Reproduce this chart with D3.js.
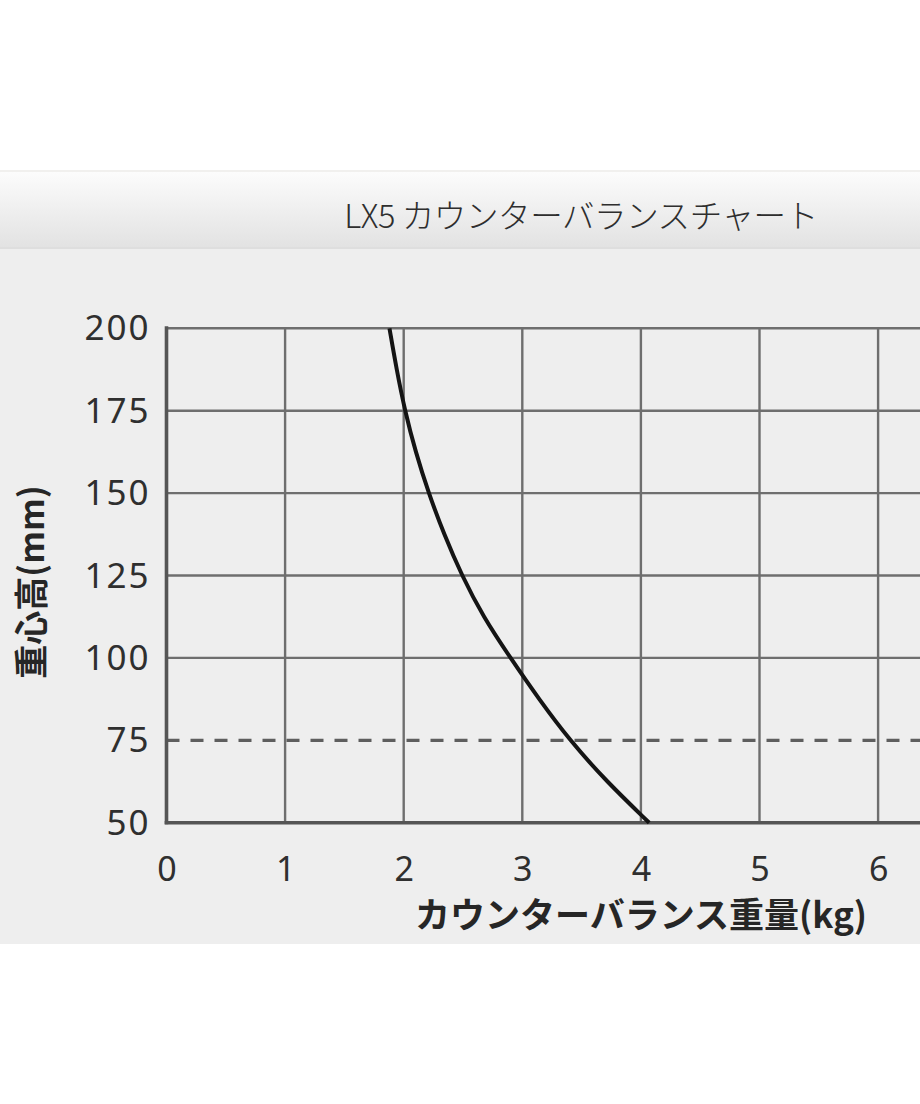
<!DOCTYPE html>
<html><head><meta charset="utf-8">
<script src="https://cdn.jsdelivr.net/npm/d3@7"></script>
<style>
html,body{margin:0;padding:0;background:#fff;}
svg{display:block;}
</style></head>
<body>
<svg id="chart" width="920" height="1104"></svg>
<script>
// ---- data ----
const title = "LX5 カウンターバランスチャート";
const xLabel = "カウンターバランス重量(kg)";
const yLabel = "重心高(mm)";
const heights = [200, 187.5, 175, 162.5, 150, 137.5, 125, 112.5, 100, 87.5, 75, 62.5, 50];
const weights = [1.88, 1.94, 2.01, 2.10, 2.21, 2.34, 2.49, 2.67, 2.90, 3.14, 3.40, 3.71, 4.07];
const xTicks = [0, 1, 2, 3, 4, 5, 6];
const xGrid = [1, 2, 3, 4, 5, 6, 7];
const yTicks = [50, 75, 100, 125, 150, 175, 200];
const yGrid = [100, 125, 150, 175, 200];
const refLine = 75;

const svg = d3.select("#chart");
const W = 920;

// background band + panel
const defs = svg.append("defs");
const g1 = defs.append("linearGradient").attr("id", "band").attr("x1", 0).attr("x2", 0).attr("y1", 0).attr("y2", 1);
g1.append("stop").attr("offset", "0%").attr("stop-color", "#fcfcfc");
g1.append("stop").attr("offset", "100%").attr("stop-color", "#e2e2e2");

svg.append("rect").attr("x", 0).attr("y", 0).attr("width", W).attr("height", 1104).attr("fill", "#fff");
svg.append("rect").attr("x", 0).attr("y", 170).attr("width", W).attr("height", 2).attr("fill", "#f1f0ee");
svg.append("rect").attr("x", 0).attr("y", 172).attr("width", W).attr("height", 76).attr("fill", "url(#band)");
svg.append("rect").attr("x", 0).attr("y", 248).attr("width", W).attr("height", 696).attr("fill", "#eeeeee");
svg.append("rect").attr("x", 0).attr("y", 247).attr("width", W).attr("height", 2).attr("fill", "#dedede");

svg.append("text").attr("x", 581).attr("y", 228)
  .attr("text-anchor", "middle")
  .attr("font-family", "'Noto Sans CJK JP', 'Noto Sans', sans-serif")
  .attr("font-weight", 300).attr("font-size", 32.5)
  .attr("letter-spacing", -0.4)
  .attr("fill", "#2e2e2e").text(title);

// scales
const x = d3.scaleLinear().domain([0, 7]).range([166.5, 166.5 + 7 * 118.6]);
const y = d3.scaleLinear().domain([50, 200]).range([822.7, 328.3]);

const grid = svg.append("g");
grid.selectAll("line.v").data(xGrid).join("line")
  .attr("x1", d => x(d)).attr("x2", d => x(d))
  .attr("y1", y(200)).attr("y2", y(50))
  .attr("stroke", "#6e6e6e").attr("stroke-width", 2.4);
grid.selectAll("line.h").data(yGrid).join("line")
  .attr("x1", x(0)).attr("x2", x(7))
  .attr("y1", d => y(d)).attr("y2", d => y(d))
  .attr("stroke", "#6e6e6e").attr("stroke-width", 2.4);

svg.append("line")
  .attr("x1", x(0)).attr("x2", x(7))
  .attr("y1", y(refLine)).attr("y2", y(refLine))
  .attr("stroke", "#5e5e5e").attr("stroke-width", 3.2)
  .attr("stroke-dasharray", "13,11");

// axes lines
svg.append("line").attr("x1", x(0)).attr("x2", x(0)).attr("y1", y(200) - 2).attr("y2", y(50) + 1.5)
  .attr("stroke", "#555").attr("stroke-width", 3.6);
svg.append("line").attr("x1", x(0) - 1.8).attr("x2", x(7)).attr("y1", y(50)).attr("y2", y(50))
  .attr("stroke", "#555").attr("stroke-width", 3.6);

// curve
const pts = heights.map((h, i) => [weights[i], h]);
svg.append("path").datum(pts)
  .attr("d", d3.line().x(d => x(d[0])).y(d => y(d[1])).curve(d3.curveBasis))
  .attr("fill", "none").attr("stroke", "#141414").attr("stroke-width", 4);

// tick labels
const fontNum = "'Noto Sans', 'Open Sans', sans-serif";
const ya = svg.append("g").attr("transform", `translate(${x(0)},0)`)
  .call(d3.axisLeft(y).tickValues(yTicks).tickSize(0).tickPadding(16).tickFormat(d3.format("d")));
ya.select(".domain").remove();
ya.selectAll("text").attr("font-family", fontNum).attr("font-size", 35).attr("fill", "#2f2f2f")
  .attr("letter-spacing", 2).attr("dy", "0.33em");

const xa = svg.append("g").attr("transform", `translate(0,${y(50)})`)
  .call(d3.axisBottom(x).tickValues(xTicks).tickSize(0).tickPadding(34).tickFormat(d3.format("d")));
xa.select(".domain").remove();
xa.selectAll("text").attr("font-family", fontNum).attr("font-size", 34).attr("fill", "#2f2f2f");

// axis titles
svg.append("text").attr("x", 641).attr("y", 928)
  .attr("text-anchor", "middle")
  .attr("font-family", "'Noto Sans CJK JP', sans-serif")
  .attr("font-weight", 700).attr("font-size", 35)
  .attr("fill", "#262626").text(xLabel);

svg.append("text").attr("transform", "translate(44,582) rotate(-90)")
  .attr("text-anchor", "middle")
  .attr("font-family", "'Noto Sans CJK JP', sans-serif")
  .attr("font-weight", 700).attr("font-size", 34)
  .attr("fill", "#262626").text(yLabel);
</script>
</body></html>
